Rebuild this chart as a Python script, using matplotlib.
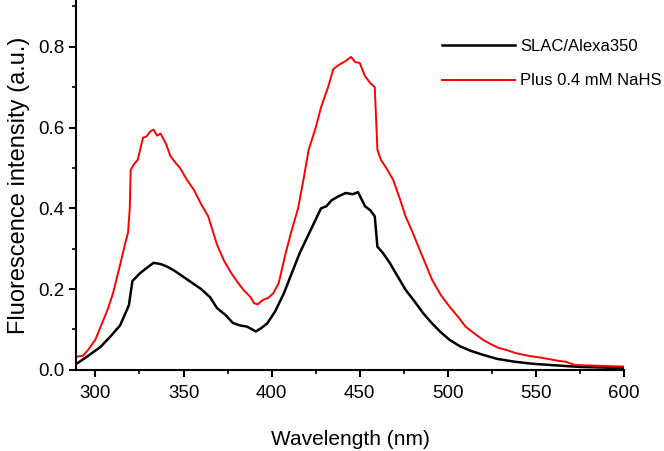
import matplotlib
matplotlib.use("Agg")
from matplotlib import pyplot as plt
from matplotlib.ticker import MultipleLocator

plt.rcParams['font.family'] = ['Liberation Sans', 'DejaVu Sans']

# black trace: SLAC/Alexa350
wl_black = [290, 296, 303, 309, 314, 317, 319, 321, 325.5, 329, 333, 337, 341, 345, 350, 355,
            360, 365, 369, 374, 378, 382, 386, 389, 391, 394, 397.5, 402, 407, 411, 416, 422,
            428, 431, 434, 438, 442, 446, 449, 453, 456, 458.5, 460, 463, 467, 471, 476, 481,
            486, 491, 496, 501, 507, 513, 520, 528, 538, 548, 558, 568, 576, 585, 593, 600]
int_black = [0.017, 0.035, 0.057, 0.085, 0.11, 0.14, 0.16, 0.22, 0.24, 0.252, 0.265, 0.262, 0.255,
             0.245, 0.23, 0.215, 0.2, 0.18, 0.153, 0.135, 0.116, 0.11, 0.107, 0.1, 0.095, 0.103,
             0.115, 0.145, 0.19, 0.235, 0.29, 0.345, 0.4, 0.405, 0.42, 0.43, 0.438, 0.435, 0.44,
             0.405, 0.395, 0.38, 0.305, 0.29, 0.265, 0.235, 0.198, 0.17, 0.14, 0.115, 0.093,
             0.074, 0.058, 0.047, 0.037, 0.027, 0.02, 0.015, 0.012, 0.009, 0.007, 0.006, 0.005, 0.005]

# red trace: Plus 0.4 mM NaHS
wl_red = [290, 293, 296, 300, 303, 307, 310, 314, 317, 318.5, 319.5, 320, 322, 324, 327, 329, 331,
          333, 335, 337, 340, 342.5, 345, 348, 352, 356, 360, 364, 369, 373, 377, 381, 384, 388,
          390, 392, 395, 398, 401, 404, 408, 411, 415, 418, 421, 425, 428, 432, 435, 438, 442,
          445, 447.5, 450, 453, 456, 458.5, 460, 462, 465, 469, 473, 476, 480, 484, 488, 491,
          496, 501, 506, 510, 515, 520, 525, 529, 534, 538, 543, 548, 553, 558, 563, 567, 572,
          578, 586, 593, 600]
int_red = [0.033, 0.035, 0.05, 0.075, 0.107, 0.15, 0.19, 0.26, 0.315, 0.34, 0.4, 0.495, 0.51,
           0.52, 0.575, 0.578, 0.59, 0.595, 0.58, 0.585, 0.56, 0.53, 0.515, 0.5, 0.47, 0.445,
           0.41, 0.38, 0.31, 0.27, 0.24, 0.215, 0.198, 0.18, 0.165, 0.162, 0.173, 0.178, 0.19,
           0.215, 0.29, 0.34, 0.4, 0.47, 0.545, 0.6, 0.65, 0.7, 0.745, 0.755, 0.765, 0.775,
           0.762, 0.76, 0.727, 0.71, 0.7, 0.545, 0.52, 0.5, 0.47, 0.42, 0.38, 0.34, 0.297, 0.255,
           0.223, 0.185, 0.156, 0.13, 0.107, 0.09, 0.074, 0.062, 0.054, 0.048, 0.042, 0.037,
           0.033, 0.03, 0.026, 0.022, 0.02, 0.012, 0.011, 0.01, 0.009, 0.008]

fig = plt.figure(figsize=(6.64, 4.51), dpi=100)
ax = fig.add_axes([0.1145, 0.18, 0.8255, 0.82])

ax.plot(wl_black, int_black, color='black', lw=1.8, label='SLAC/Alexa350')
ax.plot(wl_red, int_red, color='red', lw=1.4, label='Plus 0.4 mM NaHS')

ax.set_xlim(289, 600)
ax.set_ylim(0, 0.916)
ax.xaxis.set_major_locator(MultipleLocator(50))
ax.xaxis.set_minor_locator(MultipleLocator(25))
ax.yaxis.set_major_locator(MultipleLocator(0.2))
ax.yaxis.set_minor_locator(MultipleLocator(0.1))
ax.yaxis.set_major_formatter(matplotlib.ticker.FormatStrFormatter('%.1f'))
ax.spines['top'].set_visible(False)
ax.spines['right'].set_visible(False)
for s in ['left', 'bottom']:
    ax.spines[s].set_linewidth(1.5)
ax.tick_params(which='major', length=5, width=1.5, labelsize=13.5)
ax.tick_params(axis='x', which='major', pad=6)
ax.tick_params(which='minor', length=3, width=1.2)

ax.set_xlabel('Wavelength (nm)', fontsize=15, labelpad=20)
ax.set_ylabel('Fluorescence intensity (a.u.)', fontsize=17, labelpad=6)

ax.legend(loc='upper left', bbox_to_anchor=(0.655, 0.912), borderaxespad=0, frameon=False,
          fontsize=12, handlelength=4.4, handletextpad=0.3, labelspacing=1.15)

fig.savefig('out.png', dpi=100)
